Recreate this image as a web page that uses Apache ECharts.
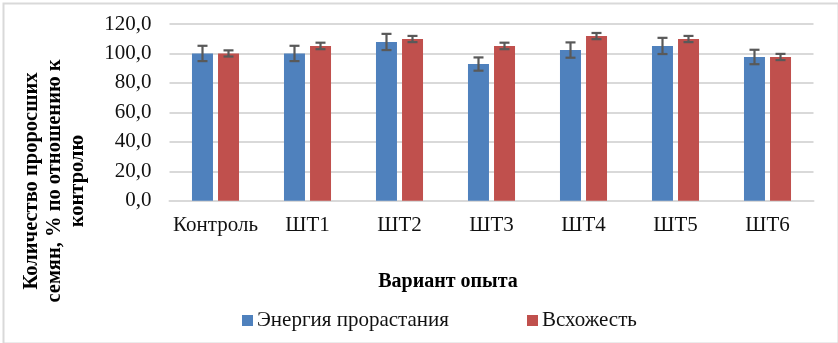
<!DOCTYPE html>
<html>
<head>
<meta charset="utf-8">
<script src="https://cdn.jsdelivr.net/npm/echarts@6/dist/echarts.min.js"></script>
<style>html,body{margin:0;padding:0;background:#fff;}#c{width:838px;height:343px;}</style>
</head>
<body>
<div id="c"></div>
<script>
const categories = ['Контроль', 'ШТ1', 'ШТ2', 'ШТ3', 'ШТ4', 'ШТ5', 'ШТ6'];
const energy = [100.0, 100.0, 107.8, 92.8, 102.3, 105.1, 97.6];
const energyErr = [5.2, 5.2, 5.5, 4.5, 5.2, 5.5, 4.9];
const germination = [100.0, 105.1, 109.8, 105.1, 111.8, 109.8, 97.6];
const germinationErr = [2.1, 2.2, 2.1, 2.2, 2.1, 2.1, 2.1];
const seriesNames = ['Энергия прорастания', 'Всхожесть'];
const yTitle = 'Количество проросших\nсемян, % по отношению к\nконтролю';
const xTitle = 'Вариант опыта';

const FONT = "'Liberation Serif', 'Times New Roman', serif";
const chart = echarts.init(document.getElementById('c'), null, {renderer: 'canvas'});

function errRender(offset) {
  return function (params, api) {
    const i = api.value(0), v = api.value(1), e = api.value(2);
    const top = api.coord([i, v + e]);
    const bot = api.coord([i, v - e]);
    const x = top[0] + offset;
    const half = 5;
    const st = {stroke: '#595959', lineWidth: 2.2};
    return {
      type: 'group',
      children: [
        {type: 'line', shape: {x1: x, y1: top[1], x2: x, y2: bot[1]}, style: st},
        {type: 'line', shape: {x1: x - half, y1: top[1], x2: x + half, y2: top[1]}, style: st},
        {type: 'line', shape: {x1: x - half, y1: bot[1], x2: x + half, y2: bot[1]}, style: st}
      ]
    };
  };
}

const option = {
  animation: false,
  backgroundColor: '#fff',
  textStyle: {fontFamily: FONT},
  grid: {left: 169.5, right: 24.5, top: 24, bottom: 142.3, containLabel: false},
  legend: [
    {data: [seriesNames[0]], left: 237, top: 305, itemWidth: 11, itemHeight: 11, itemGap: 5,
     icon: 'rect', textStyle: {fontFamily: FONT, fontSize: 21, color: '#111', padding: [0, 0, 0, -1]}},
    {data: [seriesNames[1]], left: 522, top: 305, itemWidth: 11, itemHeight: 11, itemGap: 5,
     icon: 'rect', textStyle: {fontFamily: FONT, fontSize: 21, color: '#111', padding: [0, 0, 0, -1]}}
  ],
  xAxis: {
    type: 'category',
    data: categories,
    axisLine: {show: true, lineStyle: {color: '#d9d9d9', width: 2}},
    axisTick: {show: false},
    axisLabel: {fontFamily: FONT, fontSize: 21, color: '#111', margin: 14, interval: 0}
  },
  yAxis: {
    type: 'value',
    min: 0, max: 120, interval: 20,
    axisLine: {show: false},
    axisTick: {show: false},
    splitLine: {lineStyle: {color: '#d9d9d9', width: 2}},
    axisLabel: {fontFamily: FONT, fontSize: 21, color: '#111', margin: 18,
      formatter: v => v.toFixed(1).replace('.', ',')}
  },
  graphic: [
    {type: 'rect', left: 1, top: 1, shape: {x: 0, y: 0, width: 835, height: 340},
     style: {fill: 'none', stroke: '#d9d9d9', lineWidth: 2}, z: 100},
    {type: 'text', x: 55, y: 181, rotation: Math.PI / 2,
     style: {text: yTitle, fontFamily: FONT, fontSize: 20.5, fontWeight: 'bold', fill: '#000',
       textAlign: 'center', textVerticalAlign: 'middle', lineHeight: 23}},
    {type: 'text', x: 448, y: 282,
     style: {text: xTitle, fontFamily: FONT, fontSize: 20, fontWeight: 'bold', fill: '#000',
       textAlign: 'center', textVerticalAlign: 'middle'}}
  ],
  series: [
    {name: seriesNames[0], type: 'bar', data: energy, barWidth: 21, barGap: '24%',
     itemStyle: {color: '#4F81BD'}},
    {name: seriesNames[1], type: 'bar', data: germination, barWidth: 21, barGap: '24%',
     itemStyle: {color: '#C0504D'}},
    {type: 'custom', name: 'err1', renderItem: errRender(-13), z: 10,
     data: energy.map((v, i) => [i, v, energyErr[i]]), encode: {x: 0, y: 1}},
    {type: 'custom', name: 'err2', renderItem: errRender(13), z: 10,
     data: germination.map((v, i) => [i, v, germinationErr[i]]), encode: {x: 0, y: 1}}
  ]
};
chart.setOption(option);
</script>
</body>
</html>
